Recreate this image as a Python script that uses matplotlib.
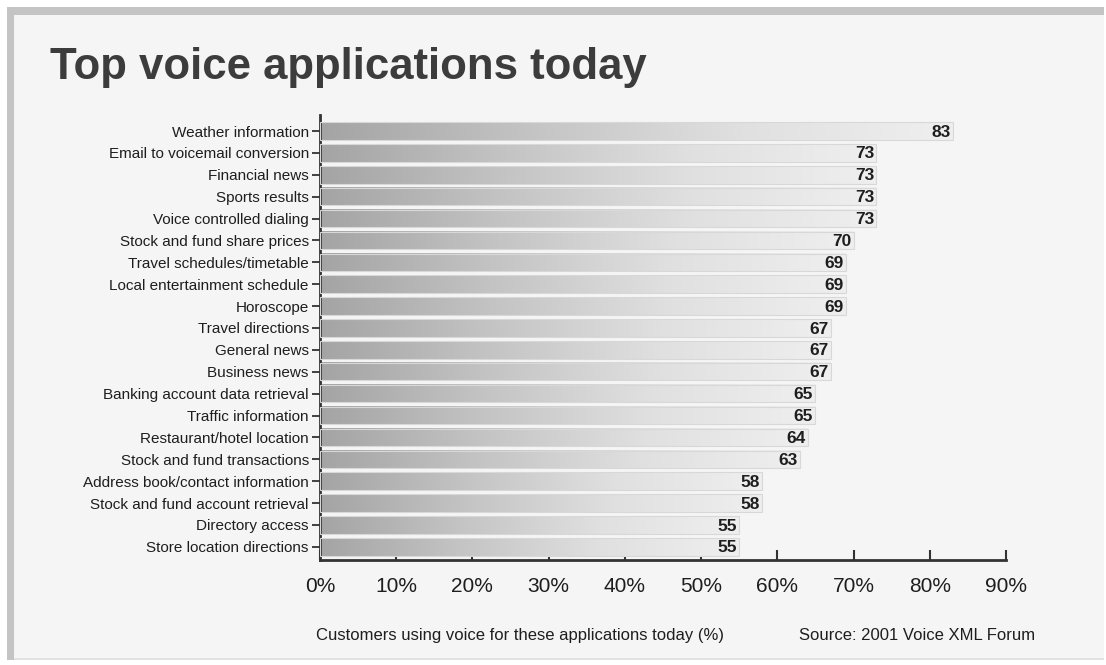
import matplotlib.pyplot as plt
import numpy as np
from matplotlib.colors import LinearSegmentedColormap
from matplotlib.patches import Rectangle

plt.rcParams['font.family'] = ['Liberation Sans', 'DejaVu Sans']

categories = [
    "Weather information",
    "Email to voicemail conversion",
    "Financial news",
    "Sports results",
    "Voice controlled dialing",
    "Stock and fund share prices",
    "Travel schedules/timetable",
    "Local entertainment schedule",
    "Horoscope",
    "Travel directions",
    "General news",
    "Business news",
    "Banking account data retrieval",
    "Traffic information",
    "Restaurant/hotel location",
    "Stock and fund transactions",
    "Address book/contact information",
    "Stock and fund account retrieval",
    "Directory access",
    "Store location directions",
]
values = [83, 73, 73, 73, 73, 70, 69, 69, 69, 67, 67, 67, 65, 65, 64, 63, 58, 58, 55, 55]
x_ticks = [0, 10, 20, 30, 40, 50, 60, 70, 80, 90]

bg = "#f5f5f5"
fig = plt.figure(figsize=(11.06, 6.65), dpi=100, facecolor="white")

# frame of the graphic
fig.patches.append(Rectangle((0.006, 0.008), 0.992, 0.982, transform=fig.transFigure,
                             facecolor=bg, edgecolor="none", zorder=-3))
fig.patches.append(Rectangle((0.006, 0.008), 0.007, 0.982, transform=fig.transFigure,
                             facecolor="#c4c4c4", edgecolor="none", zorder=-2))
fig.patches.append(Rectangle((0.006, 0.977), 0.992, 0.013, transform=fig.transFigure,
                             facecolor="#c4c4c4", edgecolor="none", zorder=-2))
fig.patches.append(Rectangle((0.013, 0.008), 0.985, 0.003, transform=fig.transFigure,
                             facecolor="#e2e2e2", edgecolor="none", zorder=-2))

ax = fig.add_axes([0.2893, 0.158, 0.6203, 0.669])
ax.patch.set_alpha(0)

cmap = LinearSegmentedColormap.from_list("bar", ["#a4a4a4", "#c4c4c4", "#e0e0e0", "#efefef"])
grad = np.linspace(0, 1, 256).reshape(1, -1)
bar_h = 0.8
for i, (cat, v) in enumerate(zip(categories, values)):
    ax.imshow(grad, cmap=cmap, aspect="auto", extent=(0, v, i + bar_h / 2, i - bar_h / 2),
              zorder=2, interpolation="bicubic")
    ax.add_patch(Rectangle((0, i - bar_h / 2), v, bar_h, facecolor="none",
                           edgecolor="#d8d8d8", linewidth=0.8, zorder=3))
    ax.text(v - 0.3, i + 0.05, str(v), ha="right", va="center", fontsize=12.5,
            fontweight="bold", color="#1e1e1e", zorder=4)

ax.set_xlim(0, 90)
ax.set_ylim(19.6, -0.73)
ax.set_yticks(range(len(categories)))
ax.set_yticklabels(categories, fontsize=11, color="#1e1e1e")
ax.set_xticks(x_ticks)
ax.set_xticklabels([f"{t}%" for t in x_ticks], fontsize=15, color="#1e1e1e")
ax.tick_params(axis="y", direction="out", length=6, width=1.3, color="#333333", pad=2)
ax.tick_params(axis="x", direction="in", length=7, width=1.5, color="#333333", pad=12)
for s in ["top", "right"]:
    ax.spines[s].set_visible(False)
for s in ["left", "bottom"]:
    ax.spines[s].set_linewidth(2)
    ax.spines[s].set_color("#333333")

fig.text(0.045, 0.898, "Top voice applications today", fontsize=31.5, fontweight="bold",
         color="#3c3c3c", va="center")
fig.text(0.47, 0.045, "Customers using voice for these applications today (%)",
         fontsize=12, color="#1e1e1e", ha="center", va="center")
fig.text(0.936, 0.045, "Source: 2001 Voice XML Forum", fontsize=12, color="#1e1e1e",
         ha="right", va="center")

plt.savefig("out.png", dpi=100, facecolor="white")
